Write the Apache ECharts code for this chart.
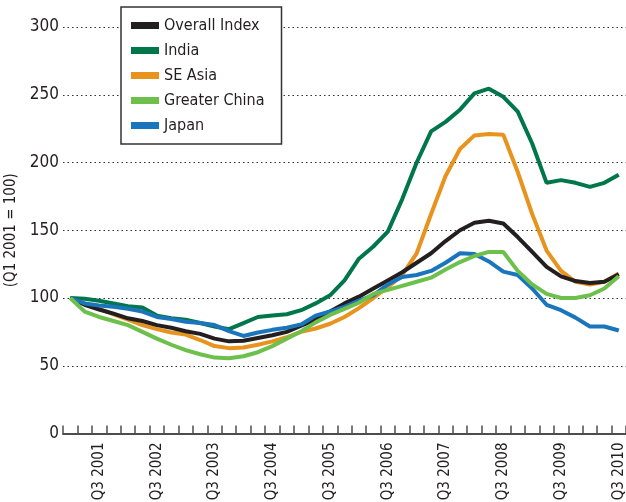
<!DOCTYPE html>
<html>
<head>
<meta charset="utf-8">
<script src="https://cdn.jsdelivr.net/npm/echarts@6/dist/echarts.min.js"></script>
<style>
  html, body { margin: 0; padding: 0; background: #fff; }
  #chart { width: 626px; height: 502px; }
</style>
</head>
<body>
<div id="chart"></div>
<script>
// quarters, Q1 2001 .. Q3 2010
const quarters = [
  'Q1 2001', 'Q2 2001', 'Q3 2001', 'Q4 2001',
  'Q1 2002', 'Q2 2002', 'Q3 2002', 'Q4 2002',
  'Q1 2003', 'Q2 2003', 'Q3 2003', 'Q4 2003',
  'Q1 2004', 'Q2 2004', 'Q3 2004', 'Q4 2004',
  'Q1 2005', 'Q2 2005', 'Q3 2005', 'Q4 2005',
  'Q1 2006', 'Q2 2006', 'Q3 2006', 'Q4 2006',
  'Q1 2007', 'Q2 2007', 'Q3 2007', 'Q4 2007',
  'Q1 2008', 'Q2 2008', 'Q3 2008', 'Q4 2008',
  'Q1 2009', 'Q2 2009', 'Q3 2009', 'Q4 2009',
  'Q1 2010', 'Q2 2010', 'Q3 2010'
];

const overallIndex = [100, 95, 91.5, 88.5, 85, 83, 80, 78, 75.5, 73.5, 70, 68, 68.5, 70.5, 72.5, 75,
  79.5, 84, 90, 96, 101, 107, 113, 119, 126, 133, 142, 150, 155.5, 157, 155, 145,
  134, 123, 116, 112.5, 111, 112, 117.5];

const india = [100, 99.5, 98, 96, 94, 93, 87, 85, 84, 81.5, 79, 77, 81.5, 86, 87, 88,
  91, 96, 102, 113, 129, 138, 149, 173, 200, 223, 230, 239, 251, 254.5, 248.5, 237.5,
  214, 185, 187, 185, 182, 185, 191];

const seAsia = [100, 96, 92, 88, 84, 80, 77, 74.5, 73, 69, 64.5, 63, 63.5, 65.5, 68, 71,
  75, 77.5, 81, 86, 92.5, 100, 108, 117, 133, 162, 190, 210, 220, 221, 220.5, 193,
  162, 135, 120, 112, 110, 112, 118];

const greaterChina = [100, 90, 86, 83, 80, 75, 70, 65.5, 61.5, 58.5, 56, 55.5, 57, 60, 64.5, 70,
  75.5, 82, 87.5, 92, 96.5, 103, 106, 109, 112, 115, 121, 126.5, 131, 134, 134, 120,
  110, 103, 100, 100, 102, 107, 116];

const japan = [100, 96, 94.5, 93.5, 92, 90, 86, 84.5, 82.5, 81.5, 80, 75.5, 72, 74.5, 76.5, 78,
  80.5, 87, 90, 93.5, 98, 102, 110, 115.5, 117, 120, 126, 133, 132.5, 127, 119.5, 117,
  107, 95, 91, 85.5, 79, 79, 76];

const legendNames = ['Overall Index', 'India', 'SE Asia', 'Greater China', 'Japan'];

const FONT = "'DejaVu Sans Condensed', 'Liberation Sans Narrow', sans-serif";
const TXT = '#231f20';

const chart = echarts.init(document.getElementById('chart'));

function line(name, data, color, z) {
  return {
    name: name,
    type: 'line',
    data: data,
    symbol: 'none',
    z: z,
    lineStyle: { width: 4, color: color },
    itemStyle: { color: color }
  };
}

chart.setOption({
  animation: false,
  textStyle: { fontFamily: FONT },
  grid: { left: 63, right: 0, top: 27, bottom: 68.5, outerBoundsMode: 'none', containLabel: false },
  legend: {
    data: legendNames,
    orient: 'vertical',
    left: 121,
    top: 7,
    icon: 'rect',
    itemWidth: 28,
    itemHeight: 7,
    itemGap: 8,
    padding: [10, 17, 10, 10],
    borderColor: '#333',
    borderWidth: 1.5,
    backgroundColor: '#fff',
    textStyle: { fontFamily: FONT, fontSize: 16, color: TXT, lineHeight: 17 }
  },
  xAxis: {
    type: 'category',
    data: quarters,
    boundaryGap: true,
    axisLine: { lineStyle: { color: '#4d4d4d', width: 2 } },
    axisTick: { show: true, inside: true, length: 8, interval: 0,
      lineStyle: { color: '#4d4d4d', width: 1.5 } },
    axisLabel: {
      interval: function (i) { return i % 4 === 2; },
      rotate: 90,
      margin: 9,
      fontFamily: FONT,
      fontSize: 15,
      color: TXT
    },
    splitLine: { show: false }
  },
  yAxis: {
    type: 'value',
    min: 0,
    max: 300,
    interval: 50,
    name: '(Q1 2001 = 100)',
    nameLocation: 'middle',
    nameGap: 29,
    nameTextStyle: { fontFamily: FONT, fontSize: 15, color: TXT },
    axisLine: { show: false },
    axisTick: { show: false },
    axisLabel: { fontFamily: FONT, fontSize: 17, color: TXT, margin: 4 },
    splitLine: { lineStyle: { color: '#333', type: [1.5, 3], width: 1.2 } }
  },
  series: [
    line('SE Asia', seAsia, '#e8931e', 2),
    line('India', india, '#00774a', 3),
    line('Overall Index', overallIndex, '#231f20', 4),
    line('Japan', japan, '#1b75bc', 5),
    line('Greater China', greaterChina, '#6dc04b', 6)
  ]
});
</script>
</body>
</html>
